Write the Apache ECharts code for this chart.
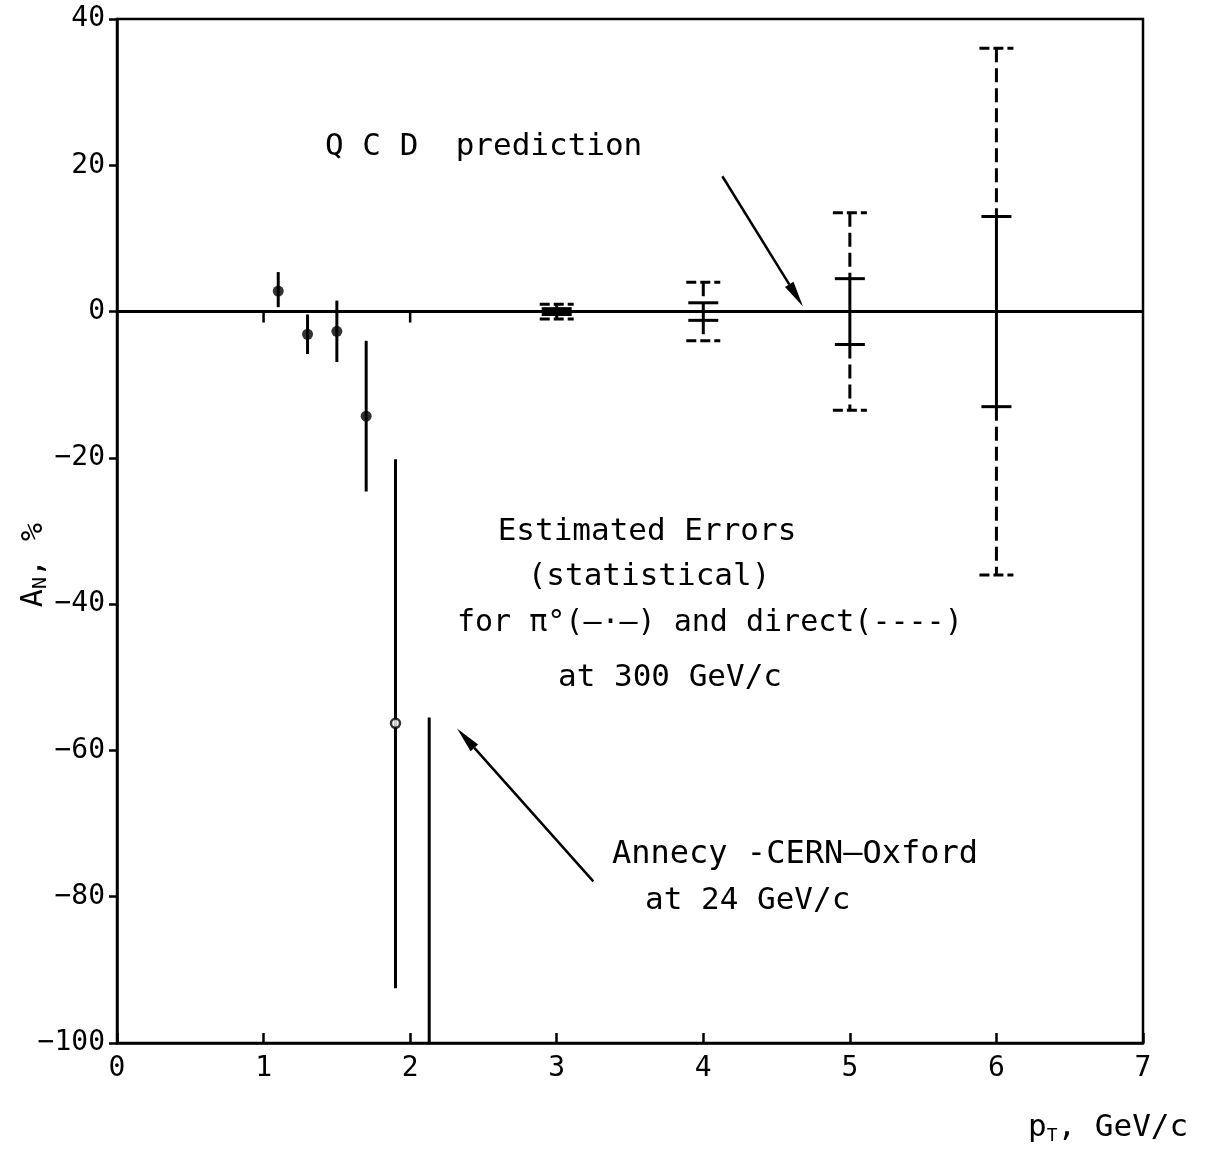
<!DOCTYPE html>
<html><head><meta charset="utf-8">
<script src="https://cdn.jsdelivr.net/npm/echarts@6/dist/echarts.min.js"></script>
<style>html,body{margin:0;padding:0;background:#fff}#c{width:1208px;height:1156px}</style>
</head><body><div id="c"></div>
<script>
// ---- data ----
const xTicks = [0, 1, 2, 3, 4, 5, 6, 7];
const yTicks = [-100, -80, -60, -40, -20, 0, 20, 40];
// Annecy-CERN-Oxford at 24 GeV/c
const acoX = [1.1, 1.3, 1.5, 1.7, 1.9];
const acoY = [2.8, -3.1, -2.7, -14.3, -56.3];
const acoLow = [0.6, -5.8, -6.9, -24.6, -92.5];
const acoHigh = [5.4, -0.4, 1.5, -4.0, -20.2];
const acoOpen = [false, false, false, false, true];
const acoLineX = [2.13];
const acoLineTop = [-55.5];
const acoLineBottom = [-100];
// Estimated statistical errors at 300 GeV/c (QCD prediction = 0)
const estX = [3, 4, 5, 6];
const estPi0Err = [0.4, 1.2, 4.5, 13];
const estDirectErr = [1.0, 4.0, 13.5, 36];
const zeroTickX = [1, 2];
const arrowQCD = [4.13, 18.5, 4.68, 0.7];
const arrowACO = [3.25, -77.9, 2.32, -57.0];

const FONT = "'DejaVu Sans Mono', monospace";
const chart = echarts.init(document.getElementById('c'), null, {renderer: 'canvas'});

function renderBar(params, api) {
  const x = api.value(0);
  const a = api.coord([x, api.value(1)]);
  const b = api.coord([x, api.value(2)]);
  return {type: 'line', shape: {x1: a[0], y1: a[1], x2: b[0], y2: b[1]},
    style: {stroke: '#000', lineWidth: 3}};
}
function renderEst(params, api) {
  const x = api.value(0), p = api.value(1), d = api.value(2);
  const pt = api.coord([x, p]), pb = api.coord([x, -p]);
  const dt = api.coord([x, d]), db = api.coord([x, -d]);
  const solid = {stroke: '#000', lineWidth: 3};
  const vdash = {stroke: '#000', lineWidth: 3, lineDash: [14, 6]};
  const hdash = {stroke: '#000', lineWidth: 3, lineDash: [10, 4]};
  const ln = (x1, y1, x2, y2, s) => ({type: 'line', shape: {x1, y1, x2, y2}, style: s});
  return {type: 'group', children: [
    ln(pt[0], pt[1], pb[0], pb[1], solid),
    ln(dt[0], dt[1], pt[0], pt[1], vdash),
    ln(pb[0], pb[1], db[0], db[1], vdash),
    ln(pt[0] - 15, pt[1], pt[0] + 15, pt[1], solid),
    ln(pb[0] - 15, pb[1], pb[0] + 15, pb[1], solid),
    ln(dt[0] - 17, dt[1], dt[0] + 17, dt[1], hdash),
    ln(db[0] - 17, db[1], db[0] + 17, db[1], hdash)
  ]};
}
function renderZeroTick(params, api) {
  const p = api.coord([api.value(0), 0]);
  return {type: 'line', shape: {x1: p[0], y1: p[1], x2: p[0], y2: p[1] + 11},
    style: {stroke: '#000', lineWidth: 2.5}};
}
function renderArrow(params, api) {
  const s = api.coord([api.value(0), api.value(1)]);
  const e = api.coord([api.value(2), api.value(3)]);
  const dx = e[0] - s[0], dy = e[1] - s[1];
  const L = Math.sqrt(dx * dx + dy * dy), ux = dx / L, uy = dy / L;
  const hl = 26, hw = 5;
  const bx = e[0] - ux * hl, by = e[1] - uy * hl;
  return {type: 'group', children: [
    {type: 'line', shape: {x1: s[0], y1: s[1], x2: bx, y2: by}, style: {stroke: '#000', lineWidth: 2.5}},
    {type: 'polygon', shape: {points: [[e[0], e[1]], [bx - uy * hw, by + ux * hw], [bx + uy * hw, by - ux * hw]]},
      style: {fill: '#000'}}
  ]};
}

const txt = (x, y, text, align, size) => ({type: 'text', x, y,
  style: {text, font: (size || 31) + "px " + FONT, fill: '#000', textAlign: align || 'left', textVerticalAlign: 'middle'}});

chart.setOption({
  animation: false,
  backgroundColor: '#fff',
  grid: {left: 117, right: 65, top: 19, bottom: 113, containLabel: false, outerBoundsMode: 'none',
    show: true, borderColor: '#000', borderWidth: 2.5},
  xAxis: {
    type: 'value', min: xTicks[0], max: xTicks[xTicks.length - 1], interval: 1,
    axisLine: {onZero: false, lineStyle: {color: '#000', width: 2.5}},
    axisTick: {inside: true, length: 10, lineStyle: {color: '#000', width: 2.5}},
    axisLabel: {color: '#000', fontFamily: FONT, fontSize: 28, margin: 12},
    splitLine: {show: false}
  },
  yAxis: {
    type: 'value', min: yTicks[0], max: yTicks[yTicks.length - 1], interval: 20,
    axisLine: {onZero: false, lineStyle: {color: '#000', width: 2.5}},
    axisTick: {inside: false, length: 8, lineStyle: {color: '#000', width: 2.5}},
    axisLabel: {color: '#000', fontFamily: FONT, fontSize: 28, margin: 12,
      formatter: v => v < 0 ? '\u2212' + Math.abs(v) : String(v)},
    splitLine: {show: false}
  },
  graphic: [
    txt(325, 147, 'Q C D  prediction'),
    txt(647, 532, 'Estimated Errors', 'center'),
    txt(649, 577, '(statistical)', 'center'),
    txt(457, 623, 'for \u03c0\u00b0(\u2014\u00b7\u2014) and direct(----)', 'left', 30),
    txt(670, 678, 'at 300 GeV/c', 'center'),
    txt(612, 855, 'Annecy -CERN\u2014Oxford', 'left', 32),
    txt(645, 901, 'at 24 GeV/c'),
    {type: 'text', x: 34, y: 565, rotation: Math.PI / 2, style: {
      text: '{a|A}{s|N}{a|, %}', textAlign: 'center', textVerticalAlign: 'middle',
      rich: {a: {font: "30px " + FONT, fill: '#000'},
        s: {font: "20px " + FONT, fill: '#000', padding: [14, 0, 0, 0]}}
    }},
    {type: 'text', x: 1028, y: 1128, style: {
      text: '{a|p}{s|T}{a|, GeV/c}', textVerticalAlign: 'middle',
      rich: {a: {font: "31px " + FONT, fill: '#000'},
        s: {font: "18px " + FONT, fill: '#000', padding: [16, 0, 0, 0]}}
    }}
  ],
  series: [
    {type: 'line', data: [[xTicks[0], 0], [xTicks[xTicks.length - 1], 0]], symbol: 'none',
      lineStyle: {color: '#000', width: 3}, z: 1},
    {type: 'custom', renderItem: renderZeroTick, data: zeroTickX.map(x => [x])},
    {type: 'custom', renderItem: renderBar, data: acoX.map((x, i) => [x, acoLow[i], acoHigh[i]])},
    {type: 'custom', renderItem: renderBar, data: acoLineX.map((x, i) => [x, acoLineTop[i], acoLineBottom[i]])},
    {type: 'scatter', z: 5, data: acoX.map((x, i) => ({
      value: [x, acoY[i]],
      symbol: 'circle',
      symbolSize: acoOpen[i] ? 9 : 11,
      itemStyle: acoOpen[i] ? {color: '#fff', borderColor: '#000', borderWidth: 2.5} : {color: '#000'}
    }))},
    {type: 'custom', renderItem: renderEst, data: estX.map((x, i) => [x, estPi0Err[i], estDirectErr[i]])},
    {type: 'custom', renderItem: renderArrow, data: [arrowQCD, arrowACO]}
  ]
});
</script></body></html>
